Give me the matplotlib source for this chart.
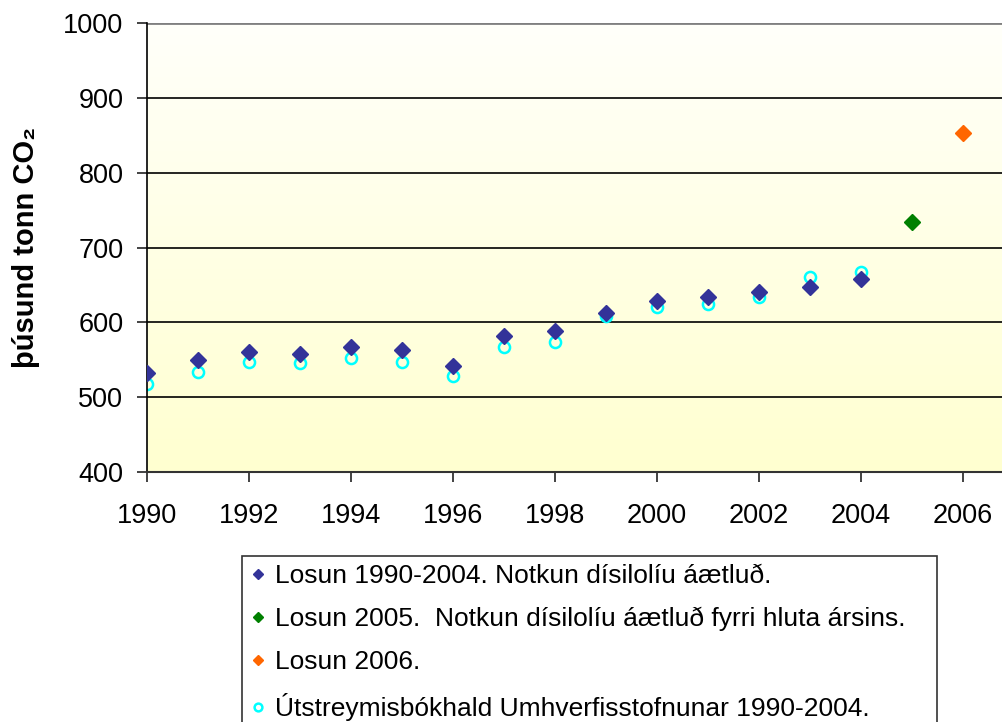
import matplotlib.pyplot as plt
import numpy as np

plt.rcParams['font.family'] = ['Liberation Sans', 'DejaVu Sans']

years = [1990, 1991, 1992, 1993, 1994, 1995, 1996, 1997, 1998, 1999,
         2000, 2001, 2002, 2003, 2004]
losun = [532, 549, 560, 558, 567, 563, 542, 582, 589, 612,
         629, 634, 641, 647, 658]
year_2005 = [2005]
losun_2005 = [734]
year_2006 = [2006]
losun_2006 = [853]
ust = [518, 534, 547, 545, 552, 547, 528, 567, 574, 609,
       621, 625, 634, 661, 667]

labels = ['Losun 1990-2004. Notkun dísilolíu áætluð.',
          'Losun 2005.  Notkun dísilolíu áætluð fyrri hluta ársins.',
          'Losun 2006.',
          'Útstreymisbókhald Umhverfisstofnunar 1990-2004.']

fig = plt.figure(figsize=(10.03, 7.22), dpi=100)
ax = fig.add_axes([147 / 1003, 1 - 472 / 722, 1 - 147 / 1003, 449 / 722])

# bakgrunnur með litabreytingu
grad = np.linspace(0, 1, 256).reshape(-1, 1)
cmap = plt.matplotlib.colors.LinearSegmentedColormap.from_list(
    'bg', ['#FFFFD0', '#FFFFFA'])
ax.imshow(grad, extent=[1990, 2006.78, 400, 1000], origin='lower',
          aspect='auto', cmap=cmap, zorder=0)

for v in [500, 600, 700, 800, 900]:
    ax.axhline(v, color='black', lw=1.2, zorder=1)
ax.axhline(1000, color='#808080', lw=2, zorder=1)

ax.plot(years, losun, 'D', color='#333399', ms=8, zorder=3, label=labels[0])
ax.plot(year_2005, losun_2005, 'D', color='#008000', ms=8, zorder=3, label=labels[1])
ax.plot(year_2006, losun_2006, 'D', color='#FF6600', ms=8, zorder=3, label=labels[2])
ax.plot(years, ust, 'o', mfc='none', mec='#00FFFF', mew=1.8, ms=8, zorder=2,
        label=labels[3])

ax.set_xlim(1990, 2006.78)
ax.set_ylim(400, 1000)
ax.set_xticks(range(1990, 2007, 2))
ax.set_yticks(range(400, 1001, 100))
ax.tick_params(labelsize=19.5, length=7, width=1.2, color='#222222')
ax.tick_params(axis='x', pad=15)
ax.tick_params(axis='y', pad=10)

for s in ['top', 'right']:
    ax.spines[s].set_visible(False)
ax.spines['left'].set_linewidth(1.2)
ax.spines['bottom'].set_linewidth(1.5)
ax.spines['bottom'].set_color('#333333')

ax.set_ylabel('þúsund tonn CO₂', fontsize=21, fontweight='bold', labelpad=17)

leg = fig.legend(loc='upper left',
                 bbox_to_anchor=(242 / 1003, 0, 695 / 1003, 1 - 556 / 722),
                 mode='expand', fontsize=19, frameon=True, fancybox=False,
                 markerscale=0.7, handlelength=0.6, handletextpad=0.35,
                 labelspacing=0.72, borderpad=0.3, borderaxespad=0)
leg.get_frame().set_edgecolor('black')
leg.get_frame().set_linewidth(1.2)

fig.savefig('out.png', dpi=100)
